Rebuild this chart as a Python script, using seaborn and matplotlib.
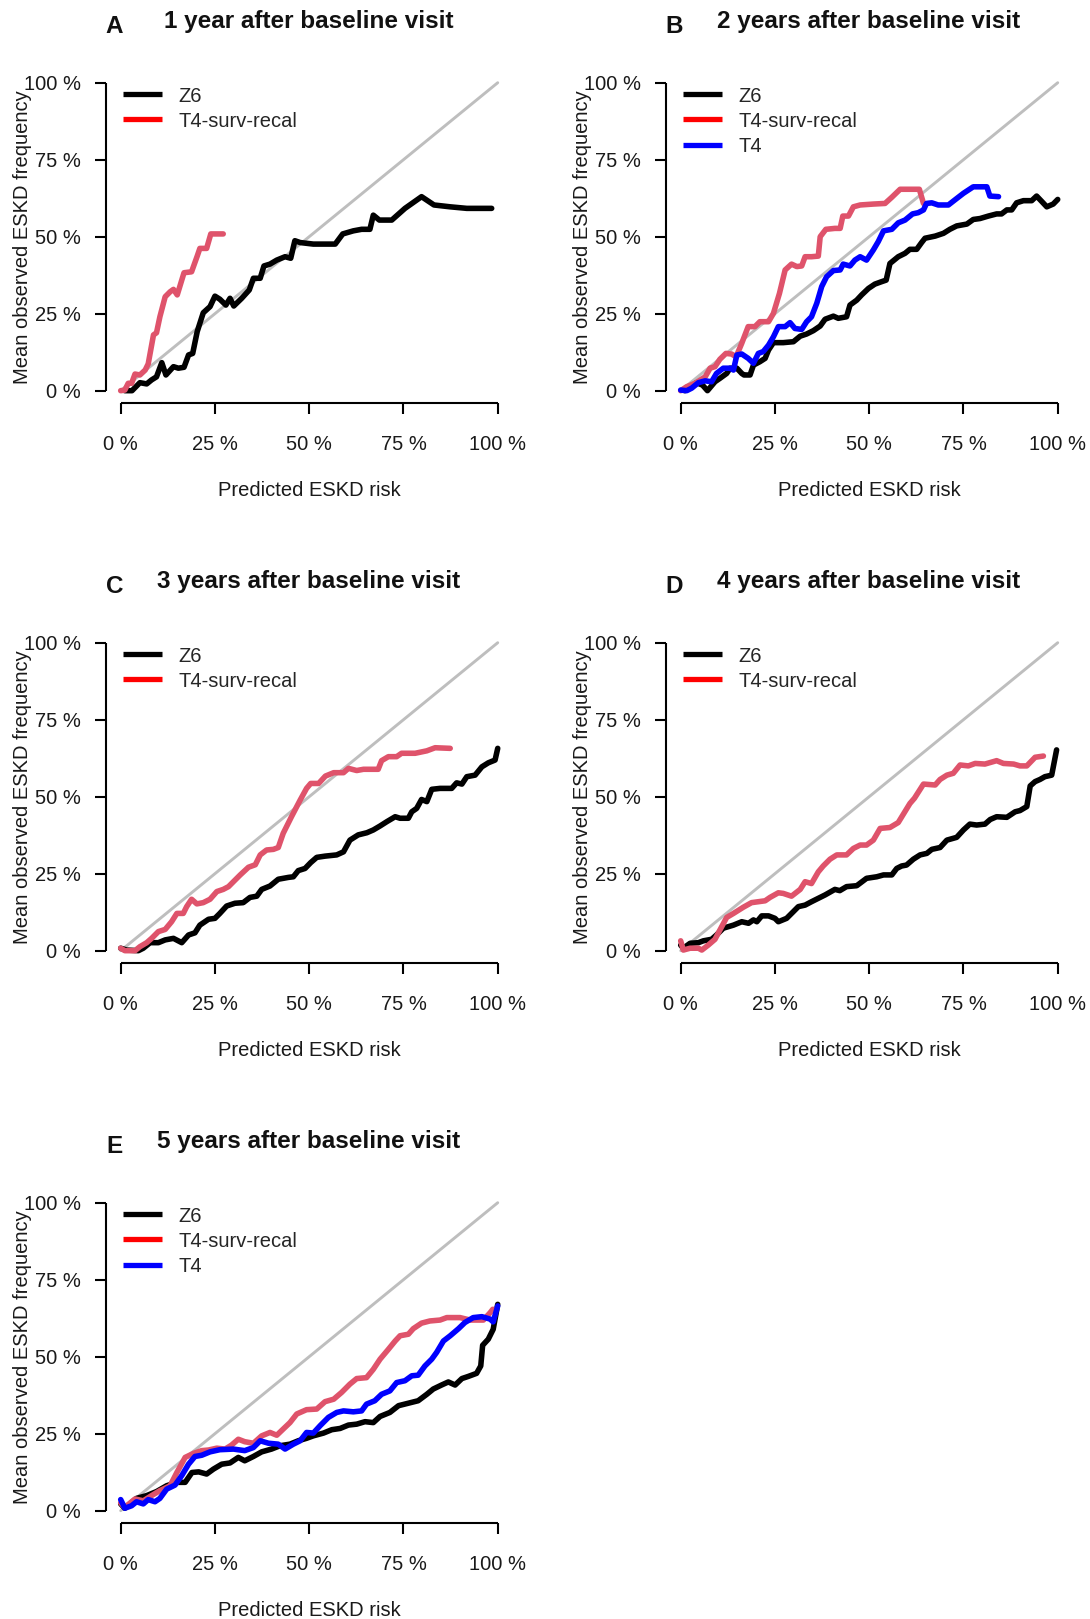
import matplotlib
matplotlib.use("Agg")
import matplotlib.pyplot as plt
from matplotlib.lines import Line2D
import numpy as np
import pandas as pd
import seaborn as sns

# ---------------------------------------------------------------------------
# Calibration data: predicted ESKD risk (x) vs mean observed ESKD frequency (y)
# ---------------------------------------------------------------------------
a_z6_x = [0.011, 0.03, 0.051, 0.069, 0.082, 0.095, 0.109, 0.12, 0.14, 0.153, 0.168, 0.18,
          0.191, 0.203, 0.219, 0.237, 0.25, 0.263, 0.279, 0.29, 0.3, 0.321, 0.341, 0.352,
          0.37, 0.38, 0.396, 0.414, 0.436, 0.451, 0.462, 0.476, 0.511, 0.569, 0.589, 0.617,
          0.639, 0.661, 0.67, 0.686, 0.719, 0.754, 0.798, 0.831, 0.874, 0.918, 0.984]
a_z6_y = [0.0, 0.0, 0.026, 0.022, 0.035, 0.045, 0.091, 0.051, 0.078, 0.073, 0.076, 0.116,
          0.121, 0.192, 0.253, 0.273, 0.307, 0.297, 0.278, 0.3, 0.275, 0.3, 0.327, 0.365,
          0.365, 0.405, 0.411, 0.424, 0.435, 0.43, 0.487, 0.481, 0.476, 0.476, 0.509, 0.519,
          0.524, 0.524, 0.57, 0.554, 0.554, 0.592, 0.63, 0.603, 0.597, 0.592, 0.592]
a_t4r_x = [0.0, 0.011, 0.02, 0.029, 0.038, 0.051, 0.065, 0.073, 0.087, 0.095, 0.104, 0.118,
           0.131, 0.14, 0.15, 0.168, 0.188, 0.203, 0.21, 0.228, 0.239, 0.272]
a_t4r_y = [0.0, 0.002, 0.024, 0.024, 0.054, 0.051, 0.067, 0.087, 0.181, 0.188, 0.24, 0.305,
           0.321, 0.329, 0.311, 0.383, 0.386, 0.437, 0.462, 0.462, 0.509, 0.509]

b_z6_x = [0.011, 0.042, 0.058, 0.071, 0.091, 0.104, 0.122, 0.131, 0.149, 0.162, 0.168, 0.184,
          0.193, 0.21, 0.224, 0.233, 0.246, 0.272, 0.299, 0.317, 0.334, 0.352, 0.37, 0.383,
          0.405, 0.418, 0.44, 0.449, 0.467, 0.48, 0.498, 0.515, 0.533, 0.545, 0.555, 0.577,
          0.595, 0.608, 0.626, 0.639, 0.648, 0.675, 0.697, 0.714, 0.732, 0.759, 0.776, 0.794,
          0.816, 0.838, 0.851, 0.865, 0.878, 0.891, 0.909, 0.931, 0.944, 0.958, 0.971, 0.988,
          1.0]
b_z6_y = [0.0, 0.026, 0.018, 0.0, 0.029, 0.04, 0.056, 0.073, 0.073, 0.056, 0.051, 0.051,
          0.083, 0.094, 0.105, 0.132, 0.156, 0.156, 0.159, 0.177, 0.184, 0.195, 0.21, 0.232,
          0.242, 0.235, 0.24, 0.278, 0.294, 0.311, 0.332, 0.346, 0.354, 0.359, 0.413, 0.435,
          0.446, 0.459, 0.459, 0.481, 0.495, 0.502, 0.511, 0.524, 0.535, 0.541, 0.556, 0.559,
          0.567, 0.574, 0.574, 0.587, 0.587, 0.61, 0.617, 0.617, 0.632, 0.614, 0.597, 0.606,
          0.621]
b_t4r_x = [0.0, 0.016, 0.038, 0.065, 0.078, 0.091, 0.104, 0.12, 0.135, 0.147, 0.162, 0.179,
           0.197, 0.21, 0.233, 0.246, 0.262, 0.277, 0.294, 0.308, 0.321, 0.33, 0.347, 0.365,
           0.37, 0.385, 0.409, 0.423, 0.43, 0.445, 0.458, 0.476, 0.511, 0.542, 0.56, 0.582,
           0.633, 0.644]
b_t4r_y = [0.0, 0.013, 0.024, 0.045, 0.073, 0.078, 0.102, 0.121, 0.119, 0.11, 0.154, 0.208,
           0.208, 0.224, 0.224, 0.251, 0.316, 0.392, 0.411, 0.403, 0.405, 0.435, 0.435, 0.437,
           0.5, 0.524, 0.527, 0.527, 0.567, 0.567, 0.597, 0.603, 0.606, 0.608, 0.628, 0.654,
           0.654, 0.608]
b_t4_x = [0.0, 0.016, 0.029, 0.047, 0.065, 0.082, 0.095, 0.113, 0.131, 0.14, 0.149, 0.162,
          0.179, 0.193, 0.206, 0.219, 0.233, 0.246, 0.259, 0.277, 0.29, 0.303, 0.321, 0.334,
          0.347, 0.361, 0.374, 0.387, 0.405, 0.423, 0.431, 0.449, 0.462, 0.476, 0.493, 0.511,
          0.524, 0.538, 0.56, 0.577, 0.595, 0.615, 0.63, 0.644, 0.652, 0.666, 0.683, 0.71,
          0.732, 0.75, 0.776, 0.812, 0.82, 0.843]
b_t4_y = [0.002, 0.0, 0.008, 0.026, 0.032, 0.029, 0.056, 0.073, 0.073, 0.067, 0.116, 0.119,
          0.105, 0.089, 0.121, 0.127, 0.148, 0.175, 0.208, 0.208, 0.221, 0.202, 0.199, 0.224,
          0.24, 0.284, 0.338, 0.37, 0.39, 0.392, 0.411, 0.405, 0.424, 0.435, 0.424, 0.457,
          0.484, 0.519, 0.524, 0.545, 0.554, 0.574, 0.578, 0.587, 0.608, 0.61, 0.603, 0.603,
          0.624, 0.641, 0.662, 0.662, 0.632, 0.63]

c_z6_x = [0.0, 0.016, 0.047, 0.06, 0.078, 0.1, 0.118, 0.14, 0.162, 0.18, 0.197, 0.21,
          0.233, 0.25, 0.263, 0.281, 0.303, 0.325, 0.343, 0.361, 0.374, 0.396, 0.418, 0.445,
          0.458, 0.471, 0.489, 0.504, 0.52, 0.542, 0.573, 0.591, 0.608, 0.63, 0.653, 0.67,
          0.688, 0.706, 0.728, 0.741, 0.763, 0.772, 0.785, 0.798, 0.812, 0.825, 0.847, 0.878,
          0.891, 0.905, 0.918, 0.94, 0.958, 0.975, 0.993, 1.0]
c_z6_y = [0.008, 0.002, 0.0, 0.008, 0.026, 0.026, 0.035, 0.04, 0.026, 0.051, 0.058, 0.083,
          0.102, 0.105, 0.121, 0.145, 0.154, 0.156, 0.173, 0.177, 0.199, 0.21, 0.232, 0.238,
          0.24, 0.26, 0.267, 0.286, 0.303, 0.307, 0.311, 0.321, 0.359, 0.376, 0.383, 0.392,
          0.405, 0.419, 0.435, 0.43, 0.43, 0.451, 0.462, 0.491, 0.484, 0.524, 0.527, 0.527,
          0.545, 0.541, 0.565, 0.57, 0.597, 0.61, 0.619, 0.657]
c_t4r_x = [0.0, 0.011, 0.038, 0.051, 0.069, 0.082, 0.1, 0.118, 0.135, 0.149, 0.166, 0.175,
           0.188, 0.202, 0.219, 0.237, 0.255, 0.272, 0.286, 0.299, 0.317, 0.339, 0.357, 0.37,
           0.387, 0.405, 0.418, 0.431, 0.453, 0.476, 0.493, 0.504, 0.525, 0.543, 0.565, 0.591,
           0.604, 0.626, 0.644, 0.683, 0.692, 0.71, 0.732, 0.745, 0.781, 0.812, 0.834, 0.874]
c_t4r_y = [0.008, 0.0, 0.0, 0.013, 0.026, 0.04, 0.062, 0.069, 0.094, 0.121, 0.121, 0.143,
           0.167, 0.152, 0.156, 0.167, 0.192, 0.199, 0.208, 0.224, 0.246, 0.271, 0.279, 0.311,
           0.327, 0.329, 0.335, 0.381, 0.435, 0.489, 0.527, 0.543, 0.543, 0.567, 0.578, 0.578,
           0.592, 0.585, 0.589, 0.589, 0.617, 0.63, 0.63, 0.641, 0.641, 0.649, 0.659, 0.657]

d_z6_x = [0.0, 0.007, 0.025, 0.047, 0.06, 0.082, 0.095, 0.113, 0.14, 0.162, 0.18, 0.193,
          0.202, 0.215, 0.233, 0.25, 0.259, 0.281, 0.299, 0.312, 0.33, 0.347, 0.365, 0.383,
          0.409, 0.422, 0.44, 0.467, 0.493, 0.52, 0.538, 0.56, 0.573, 0.586, 0.599, 0.617,
          0.635, 0.653, 0.666, 0.688, 0.706, 0.732, 0.75, 0.767, 0.785, 0.807, 0.821, 0.838,
          0.865, 0.887, 0.9, 0.918, 0.927, 0.94, 0.953, 0.966, 0.984, 0.997]
d_z6_y = [0.018, 0.008, 0.024, 0.026, 0.032, 0.037, 0.051, 0.073, 0.083, 0.094, 0.089, 0.1,
          0.094, 0.113, 0.113, 0.105, 0.094, 0.105, 0.127, 0.143, 0.148, 0.159, 0.17, 0.181,
          0.199, 0.195, 0.208, 0.211, 0.235, 0.24, 0.246, 0.246, 0.267, 0.275, 0.278, 0.297,
          0.311, 0.316, 0.329, 0.335, 0.359, 0.368, 0.392, 0.411, 0.408, 0.411, 0.426, 0.435,
          0.433, 0.451, 0.455, 0.468, 0.535, 0.549, 0.556, 0.565, 0.57, 0.652]
d_t4r_x = [0.0, 0.007, 0.025, 0.047, 0.056, 0.073, 0.091, 0.104, 0.122, 0.14, 0.166, 0.188,
           0.206, 0.224, 0.237, 0.259, 0.272, 0.294, 0.317, 0.33, 0.347, 0.365, 0.378, 0.396,
           0.414, 0.44, 0.458, 0.476, 0.493, 0.511, 0.529, 0.555, 0.577, 0.591, 0.608, 0.62,
           0.644, 0.675, 0.688, 0.706, 0.723, 0.741, 0.763, 0.781, 0.807, 0.838, 0.856, 0.883,
           0.9, 0.918, 0.94, 0.962]
d_t4r_y = [0.032, 0.002, 0.008, 0.008, 0.002, 0.018, 0.037, 0.067, 0.108, 0.121, 0.141, 0.156,
           0.159, 0.162, 0.173, 0.188, 0.186, 0.177, 0.199, 0.224, 0.218, 0.256, 0.275, 0.297,
           0.311, 0.311, 0.332, 0.343, 0.343, 0.359, 0.397, 0.4, 0.416, 0.444, 0.478, 0.495,
           0.541, 0.538, 0.556, 0.57, 0.576, 0.603, 0.6, 0.608, 0.606, 0.617, 0.608, 0.606,
           0.6, 0.6, 0.628, 0.632]

e_z6_x = [0.0, 0.011, 0.042, 0.069, 0.095, 0.122, 0.149, 0.171, 0.189, 0.207, 0.228, 0.246,
          0.268, 0.29, 0.312, 0.329, 0.352, 0.374, 0.4, 0.423, 0.449, 0.471, 0.493, 0.511,
          0.538, 0.56, 0.582, 0.604, 0.626, 0.648, 0.67, 0.688, 0.714, 0.737, 0.763, 0.789,
          0.812, 0.829, 0.851, 0.869, 0.887, 0.905, 0.922, 0.944, 0.955, 0.96, 0.975, 0.988,
          1.0]
e_z6_y = [0.022, 0.008, 0.04, 0.049, 0.062, 0.081, 0.092, 0.092, 0.124, 0.126, 0.119, 0.135,
          0.151, 0.155, 0.173, 0.162, 0.176, 0.191, 0.2, 0.211, 0.216, 0.227, 0.235, 0.243,
          0.252, 0.263, 0.267, 0.278, 0.281, 0.289, 0.286, 0.306, 0.319, 0.341, 0.349, 0.357,
          0.378, 0.395, 0.408, 0.418, 0.408, 0.429, 0.436, 0.446, 0.47, 0.537, 0.557, 0.589,
          0.67]
e_t4r_x = [0.0, 0.011, 0.038, 0.06, 0.082, 0.104, 0.131, 0.149, 0.171, 0.193, 0.215, 0.233,
           0.255, 0.277, 0.294, 0.312, 0.329, 0.352, 0.374, 0.396, 0.414, 0.431, 0.449, 0.467,
           0.493, 0.52, 0.542, 0.565, 0.586, 0.608, 0.626, 0.652, 0.67, 0.688, 0.71, 0.728,
           0.741, 0.763, 0.776, 0.798, 0.82, 0.847, 0.865, 0.9, 0.927, 0.962, 0.98, 0.987]
e_t4r_y = [0.025, 0.011, 0.038, 0.032, 0.049, 0.065, 0.081, 0.124, 0.173, 0.186, 0.195, 0.197,
           0.203, 0.2, 0.213, 0.232, 0.224, 0.219, 0.243, 0.254, 0.245, 0.265, 0.286, 0.314,
           0.328, 0.33, 0.354, 0.362, 0.384, 0.411, 0.429, 0.432, 0.459, 0.492, 0.524, 0.551,
           0.568, 0.573, 0.591, 0.609, 0.616, 0.619, 0.627, 0.627, 0.619, 0.619, 0.643, 0.654]
e_t4_x = [0.0, 0.011, 0.029, 0.042, 0.06, 0.073, 0.091, 0.104, 0.122, 0.144, 0.162, 0.18,
          0.197, 0.215, 0.237, 0.263, 0.299, 0.329, 0.352, 0.37, 0.392, 0.418, 0.436, 0.458,
          0.476, 0.493, 0.511, 0.529, 0.551, 0.573, 0.591, 0.617, 0.639, 0.652, 0.674, 0.692,
          0.714, 0.732, 0.754, 0.772, 0.789, 0.807, 0.825, 0.838, 0.856, 0.874, 0.896, 0.913,
          0.935, 0.958, 0.98, 0.988, 1.0]
e_t4_y = [0.036, 0.008, 0.016, 0.029, 0.022, 0.036, 0.029, 0.04, 0.07, 0.083, 0.114, 0.151,
          0.176, 0.18, 0.191, 0.198, 0.2, 0.195, 0.205, 0.227, 0.219, 0.216, 0.2, 0.216,
          0.227, 0.254, 0.252, 0.276, 0.303, 0.319, 0.324, 0.321, 0.324, 0.346, 0.357, 0.378,
          0.389, 0.416, 0.422, 0.438, 0.44, 0.47, 0.492, 0.514, 0.551, 0.568, 0.591, 0.611,
          0.627, 0.63, 0.622, 0.613, 0.665]

diag = [0.0, 1.0]

panel_letters = ["A", "B", "C", "D", "E"]
panel_titles = ["1 year after baseline visit", "2 years after baseline visit",
                "3 years after baseline visit", "4 years after baseline visit",
                "5 years after baseline visit"]
tick_values = [0.0, 0.25, 0.5, 0.75, 1.0]
tick_labels = ["0 %", "25 %", "50 %", "75 %", "100 %"]
x_label = "Predicted ESKD risk"
y_label = "Mean observed ESKD frequency"

model_names = ["Z6", "T4-surv-recal", "T4"]
line_colors = {"Z6": "#000000", "T4-surv-recal": "#DF536B", "T4": "#0000FF"}
legend_colors = {"Z6": "#000000", "T4-surv-recal": "#FF0000", "T4": "#0000FF"}

panels = [
    {"Z6": (a_z6_x, a_z6_y), "T4-surv-recal": (a_t4r_x, a_t4r_y)},
    {"Z6": (b_z6_x, b_z6_y), "T4-surv-recal": (b_t4r_x, b_t4r_y), "T4": (b_t4_x, b_t4_y)},
    {"Z6": (c_z6_x, c_z6_y), "T4-surv-recal": (c_t4r_x, c_t4r_y)},
    {"Z6": (d_z6_x, d_z6_y), "T4-surv-recal": (d_t4r_x, d_t4r_y)},
    {"Z6": (e_z6_x, e_z6_y), "T4-surv-recal": (e_t4r_x, e_t4r_y), "T4": (e_t4_x, e_t4_y)},
]

# ---------------------------------------------------------------------------
sns.set_style("ticks")
plt.rcParams["font.family"] = ["Liberation Sans", "DejaVu Sans"]

W, H = 1090, 1619
DPI = 100
fig = plt.figure(figsize=(W / DPI, H / DPI), dpi=DPI)
fig.patch.set_facecolor("white")

FS = 14.5          # axis text size (pt)
CELL = 560         # panel pitch in pixels
AX_L, AX_T = 105.6, 70.4
AX_W, AX_H = 407.2, 332.6
LW = 4.0


def fx(px):
    return px / W


def fy(py):
    return 1.0 - py / H


for i, series in enumerate(panels):
    col, row = i % 2, i // 2
    ox, oy = col * CELL, row * CELL
    ax = fig.add_axes([fx(AX_L + ox), fy(AX_T + oy + AX_H), AX_W / W, AX_H / H])
    ax.set_facecolor("white")

    # identity line
    sns.lineplot(x=diag, y=diag, ax=ax, color="#BEBEBE", linewidth=2.1,
                 estimator=None, sort=False)

    frames = []
    for name in model_names:
        if name in series:
            xs, ys = series[name]
            frames.append(pd.DataFrame({"pred": xs, "obs": ys, "model": name}))
    df = pd.concat(frames, ignore_index=True)
    order = [m for m in model_names if m in series]
    sns.lineplot(data=df, x="pred", y="obs", hue="model", hue_order=order,
                 units="model", estimator=None, sort=False,
                 palette=line_colors, linewidth=LW, legend=False, ax=ax,
                 solid_joinstyle="round", solid_capstyle="round")

    ax.set_xlim(-0.04, 1.04)
    ax.set_ylim(-0.04, 1.04)
    ax.set_xticks(tick_values)
    ax.set_xticklabels(tick_labels)
    ax.set_yticks(tick_values)
    ax.set_yticklabels(tick_labels)
    ax.set_xlabel("")
    ax.set_ylabel("")
    for side in ("top", "right"):
        ax.spines[side].set_visible(False)
    for side in ("left", "bottom"):
        ax.spines[side].set_bounds(0, 1)
        ax.spines[side].set_linewidth(1.5)
        ax.spines[side].set_color("black")
        ax.spines[side].set_capstyle("butt")
    ax.tick_params(axis="both", direction="out", length=7.8, width=1.5,
                   color="black", labelsize=FS, labelcolor="#1a1a1a")
    ax.tick_params(axis="x", pad=15)
    ax.tick_params(axis="y", pad=10)

    handles = [Line2D([0], [0], color=legend_colors[m], linewidth=3.8,
                      solid_capstyle="butt") for m in order]
    ax.legend(handles, order, loc="upper left",
              bbox_to_anchor=((123 - AX_L) / AX_W, (AX_T + AX_H - 86.5) / AX_H),
              frameon=False, fontsize=FS, handlelength=1.95, handletextpad=0.8,
              labelspacing=0.3, borderpad=0, borderaxespad=0)

    # panel title, letter and axis labels
    fig.text(fx(309 + ox), fy(21.7 + oy), panel_titles[i], ha="center", va="center",
             fontsize=17.5, fontweight="bold", color="#111111")
    fig.text(fx(114.5 + ox), fy(33.3 + oy), panel_letters[i], ha="center",
             va="baseline", fontsize=17.5, fontweight="bold", color="#111111")
    fig.text(fx(309 + ox), fy(490 + oy), x_label, ha="center", va="center",
             fontsize=FS, color="#1a1a1a")
    fig.text(fx(23 + ox), fy(236.7 + oy), y_label, ha="center", va="center",
             rotation=90, fontsize=FS, color="#1a1a1a")

fig.savefig("out.png", dpi=DPI, facecolor="white")
